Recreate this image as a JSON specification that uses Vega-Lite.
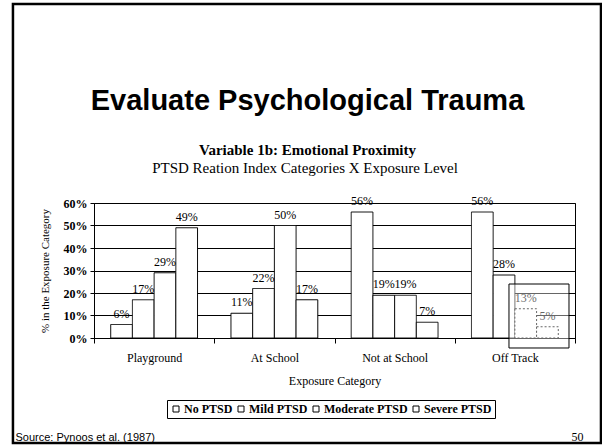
{
  "$schema": "https://vega.github.io/schema/vega-lite/v6.json",
  "autosize": {"type": "none"},
  "padding": {"left": 94, "top": 203, "right": 27, "bottom": 108},
  "width": 481,
  "height": 135,
  "background": "white",
  "title": {
    "text": "Evaluate Psychological Trauma",
    "subtitle": "Variable 1b: Emotional Proximity",
    "anchor": "middle",
    "frame": "group",
    "dx": -27,
    "offset": -155,
    "font": "Liberation Sans",
    "fontSize": 29,
    "fontWeight": "bold",
    "color": "black",
    "subtitleFont": "Liberation Serif",
    "subtitleFontSize": 15,
    "subtitleFontWeight": "bold",
    "subtitleColor": "black",
    "subtitlePadding": 27
  },
  "data": {
    "values": [
      {"category": "Playground", "ptsd": "No PTSD", "value": 0.06},
      {"category": "Playground", "ptsd": "Mild PTSD", "value": 0.17},
      {"category": "Playground", "ptsd": "Moderate PTSD", "value": 0.29},
      {"category": "Playground", "ptsd": "Severe PTSD", "value": 0.49},
      {"category": "At School", "ptsd": "No PTSD", "value": 0.11},
      {"category": "At School", "ptsd": "Mild PTSD", "value": 0.22},
      {"category": "At School", "ptsd": "Moderate PTSD", "value": 0.50},
      {"category": "At School", "ptsd": "Severe PTSD", "value": 0.17},
      {"category": "Not at School", "ptsd": "No PTSD", "value": 0.56},
      {"category": "Not at School", "ptsd": "Mild PTSD", "value": 0.19},
      {"category": "Not at School", "ptsd": "Moderate PTSD", "value": 0.19},
      {"category": "Not at School", "ptsd": "Severe PTSD", "value": 0.07},
      {"category": "Off Track", "ptsd": "No PTSD", "value": 0.56},
      {"category": "Off Track", "ptsd": "Mild PTSD", "value": 0.28},
      {"category": "Off Track", "ptsd": "Moderate PTSD", "value": 0.13},
      {"category": "Off Track", "ptsd": "Severe PTSD", "value": 0.05}
    ]
  },
  "layer": [
    {
      "encoding": {
        "x": {
          "field": "category",
          "type": "nominal",
          "sort": ["Playground", "At School", "Not at School", "Off Track"],
          "scale": {"paddingInner": 0, "paddingOuter": 0},
          "axis": {
            "orient": "bottom",
            "title": "Exposure Category",
            "labelAngle": 0,
            "labelFont": "Liberation Serif",
            "labelFontSize": 12,
            "labelColor": "black",
            "labelPadding": 9,
            "tickBand": "extent",
            "ticks": true,
            "tickSize": 5,
            "tickColor": "black",
            "domainColor": "black",
            "grid": false,
            "titleFont": "Liberation Serif",
            "titleFontSize": 12,
            "titleFontWeight": "normal",
            "titleColor": "black",
            "titlePadding": 12
          }
        },
        "xOffset": {
          "field": "ptsd",
          "type": "nominal",
          "sort": ["No PTSD", "Mild PTSD", "Moderate PTSD", "Severe PTSD"],
          "scale": {"paddingInner": 0, "paddingOuter": 0.77}
        },
        "y": {
          "field": "value",
          "type": "quantitative",
          "scale": {"domain": [0, 0.6], "nice": false, "zero": true},
          "axis": {
            "values": [0, 0.1, 0.2, 0.3, 0.4, 0.5, 0.6],
            "format": ".0%",
            "labelFont": "Liberation Serif",
            "labelFontSize": 12,
            "labelFontWeight": "bold",
            "labelColor": "black",
            "labelPadding": 3,
            "tickSize": 4,
            "tickColor": "black",
            "domainColor": "black",
            "grid": true,
            "gridColor": "black",
            "gridWidth": 1,
            "title": "% in the Exposure Category",
            "titleFont": "Liberation Serif",
            "titleFontSize": 11,
            "titleFontWeight": "normal",
            "titleColor": "black",
            "titleAngle": -90,
            "titleX": -49,
            "titleY": 67.5,
            "titleAlign": "center",
            "titleBaseline": "middle"
          }
        }
      },
      "layer": [
        {
          "mark": {"type": "bar", "stroke": "black", "strokeWidth": 1},
          "encoding": {
            "fill": {
              "field": "ptsd",
              "type": "nominal",
              "sort": ["No PTSD", "Mild PTSD", "Moderate PTSD", "Severe PTSD"],
              "scale": {"range": ["white", "white", "white", "white"]},
              "legend": {
                "title": null,
                "orient": "none",
                "legendX": 73,
                "legendY": 197,
                "direction": "horizontal",
                "padding": 3,
                "strokeColor": "black",
                "fillColor": "white",
                "symbolType": "square",
                "symbolSize": 36,
                "symbolStrokeColor": "black",
                "symbolStrokeWidth": 1,
                "symbolFillColor": "white",
                "labelFont": "Liberation Serif",
                "labelFontSize": 12,
                "labelFontWeight": "bold",
                "labelColor": "black",
                "labelOffset": 2,
                "columnPadding": 2
              }
            },
            "strokeDash": {
              "condition": {
                "test": "datum.category === 'Off Track' && (datum.ptsd === 'Moderate PTSD' || datum.ptsd === 'Severe PTSD')",
                "value": [2, 2]
              },
              "value": [1, 0]
            }
          }
        },
        {
          "mark": {"type": "text", "baseline": "alphabetic", "dy": -7, "font": "Liberation Serif", "fontSize": 12, "color": "black"},
          "encoding": {
            "text": {"field": "value", "type": "quantitative", "format": ".0%"}
          }
        }
      ]
    },
    {
      "data": {"values": [{"note": "highlight"}]},
      "mark": {"type": "rect", "fill": "white", "fillOpacity": 0.4, "stroke": "black", "strokeWidth": 1},
      "encoding": {
        "x": {
          "datum": 3.451,
          "type": "quantitative",
          "scale": {"domain": [0, 4], "nice": false, "zero": false},
          "axis": {
            "orient": "top",
            "labels": false,
            "ticks": false,
            "domain": false,
            "grid": false,
            "title": "PTSD Reation Index Categories X Exposure Level",
            "titleFont": "Liberation Serif",
            "titleFontSize": 15,
            "titleFontWeight": "normal",
            "titleColor": "black",
            "titleX": 210.5,
            "titleY": -31,
            "titleAlign": "center",
            "titleBaseline": "alphabetic"
          }
        },
        "x2": {"datum": 3.95},
        "y": {
          "datum": 0.24,
          "type": "quantitative",
          "scale": {"domain": [0, 0.6], "nice": false, "zero": false},
          "axis": null
        },
        "y2": {"datum": -0.0444}
      }
    },
    {
      "data": {"values": [{"note": "slide frame"}]},
      "mark": {"type": "rect", "fill": "white", "fillOpacity": 0, "stroke": "black", "strokeWidth": 2.5},
      "encoding": {
        "x": {
          "datum": -0.674,
          "type": "quantitative",
          "scale": {"domain": [0, 4], "nice": false, "zero": false},
          "axis": {
            "orient": "bottom",
            "labels": false,
            "ticks": false,
            "domain": false,
            "grid": false,
            "title": "Source: Pynoos et al. (1987)",
            "titleFont": "Liberation Sans",
            "titleFontSize": 11,
            "titleFontWeight": "normal",
            "titleColor": "black",
            "titleX": -79,
            "titleY": 102,
            "titleAlign": "left",
            "titleBaseline": "alphabetic"
          }
        },
        "x2": {"datum": 4.216},
        "y": {
          "datum": 1.484,
          "type": "quantitative",
          "scale": {"domain": [0, 0.6], "nice": false, "zero": false},
          "axis": {
            "orient": "right",
            "labels": false,
            "ticks": false,
            "domain": false,
            "grid": false,
            "title": "50",
            "titleAngle": 0,
            "titleFont": "Liberation Serif",
            "titleFontSize": 12,
            "titleFontWeight": "normal",
            "titleColor": "black",
            "titleX": -4,
            "titleY": 237,
            "titleAlign": "left",
            "titleBaseline": "alphabetic"
          }
        },
        "y2": {"datum": -0.467}
      }
    }
  ],
  "resolve": {"scale": {"x": "independent", "y": "independent"}},
  "config": {
    "view": {"stroke": "black", "strokeWidth": 1},
    "font": "Liberation Serif"
  }
}
